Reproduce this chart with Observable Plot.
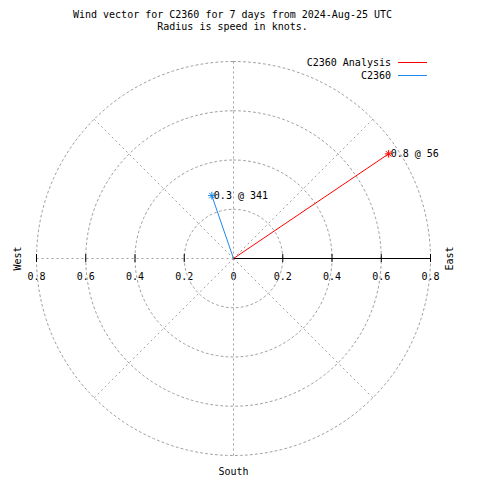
<!DOCTYPE html>
<html><head><meta charset="utf-8">
<script src="https://cdn.jsdelivr.net/npm/d3@7"></script>
<script src="https://cdn.jsdelivr.net/npm/@observablehq/plot@0.6"></script>
<style>body{margin:0;background:#fff} svg{display:block}</style>
</head><body><div id="chart"></div>
<script>
const titleLines = ["Wind vector for C2360 for 7 days from 2024-Aug-25 UTC", "Radius is speed in knots."];
const seriesNames = ["C2360 Analysis", "C2360"];
const speeds = [0.76, 0.27];
const directions = [56, 341];
const seriesColors = ["#ff0000", "#1e88ec"];
const ringRadii = [0.2, 0.4, 0.6, 0.8];
const spokeAngles = [0, 45, 90, 135, 180, 225, 270, 315];
const tickValues = [0.2, 0.4, 0.6, 0.8];
const compassNames = ["West", "East", "South"];
const compassAngles = [270, 90, 180];
const rMax = 0.8;

const W = 480, H = 480, cx = 233, cy = 258, rPx = 197;
const k = rMax / rPx;
const rad = d => d * Math.PI / 180;
const polar = (r, a) => ({x: r * Math.sin(rad(a)), y: r * Math.cos(rad(a))});

const rings = ringRadii.flatMap(r => d3.range(0, 361, 2).map(a => ({r, ...polar(r, a)})));
const spokes = spokeAngles.filter(a => a !== 90).map(a => ({a, ...polar(rMax, a)}));
const vectors = seriesNames.map((name, i) => ({
  name, color: seriesColors[i], speed: speeds[i], dir: directions[i],
  ...polar(speeds[i], directions[i]),
  label: `${speeds[i].toFixed(1)} @ ${directions[i]}`
}));
const ticksAll = [...tickValues, ...tickValues.map(v => -v)];
const tickLabelData = [{x: 0, t: "0"}, ...tickValues.map(v => ({x: v, t: String(v)})), ...tickValues.map(v => ({x: -v, t: String(v)}))];
const compass = compassNames.map((n, i) => ({n, a: compassAngles[i], ...polar(rMax, compassAngles[i])}));

const font = "DejaVu Sans Mono";
const dash = "2,3";
const gridColor = "#a0a0a0";

const chart = Plot.plot({
  width: W, height: H, margin: 0,
  style: {fontFamily: font, fontSize: "10px", background: "#fff", color: "#000"},
  x: {domain: [(0 - cx) * k, (W - cx) * k], range: [0, W], axis: null},
  y: {domain: [(cy - H) * k, cy * k], range: [H, 0], axis: null},
  marks: [
    Plot.text(tickLabelData, {x: "x", y: 0, text: "t", dy: 18, fill: "#000"}),
    Plot.line(rings, {x: "x", y: "y", z: "r", stroke: gridColor, strokeDasharray: dash, strokeWidth: 1}),
    Plot.link(spokes, {x1: 0, y1: 0, x2: "x", y2: "y", stroke: gridColor, strokeDasharray: dash, strokeWidth: 1}),
    Plot.link([rMax], {x1: 0, y1: 0, x2: d => d, y2: 0, stroke: "#000", strokeWidth: 1}),
    Plot.ruleX(ticksAll, {x: d => d, y1: -4 * k, y2: 4 * k, stroke: "#000", strokeWidth: 1}),
    Plot.link(vectors, {x1: 0, y1: 0, x2: "x", y2: "y", stroke: "color", strokeWidth: 1}),
    Plot.dot(vectors, {x: "x", y: "y", symbol: "plus", r: 2.6, stroke: "color", strokeWidth: 1}),
    Plot.dot(vectors, {x: "x", y: "y", symbol: "times", r: 2.6, stroke: "color", strokeWidth: 1}),
    Plot.text(vectors, {x: "x", y: "y", text: "label", textAnchor: "start", dx: 2, fill: "#000"}),
    Plot.text(compass.filter(d => d.n === "West"), {x: "x", y: "y", text: "n", rotate: -90, dx: -19, fill: "#000"}),
    Plot.text(compass.filter(d => d.n === "East"), {x: "x", y: "y", text: "n", rotate: -90, dx: 19, fill: "#000"}),
    Plot.text(compass.filter(d => d.n === "South"), {x: "x", y: "y", text: "n", dy: 16, fill: "#000"}),
    Plot.text([titleLines.join("\n")], {frameAnchor: "top", text: d => d, dx: -8, dy: 20, lineAnchor: "middle", lineHeight: 1.2, fill: "#000"})
  ]
});

// legend
const svg = d3.select(chart);
const leg = svg.append("g").attr("font-family", font).attr("font-size", 10);
seriesNames.forEach((name, i) => {
  const yy = 62.5 + i * 13;
  leg.append("text").attr("x", 391).attr("y", yy).attr("dy", "0.32em").attr("text-anchor", "end").text(name);
  leg.append("line").attr("x1", 398).attr("x2", 427).attr("y1", yy).attr("y2", yy).attr("stroke", seriesColors[i]).attr("stroke-width", 1);
});

document.getElementById("chart").appendChild(chart);
</script>
</body></html>
